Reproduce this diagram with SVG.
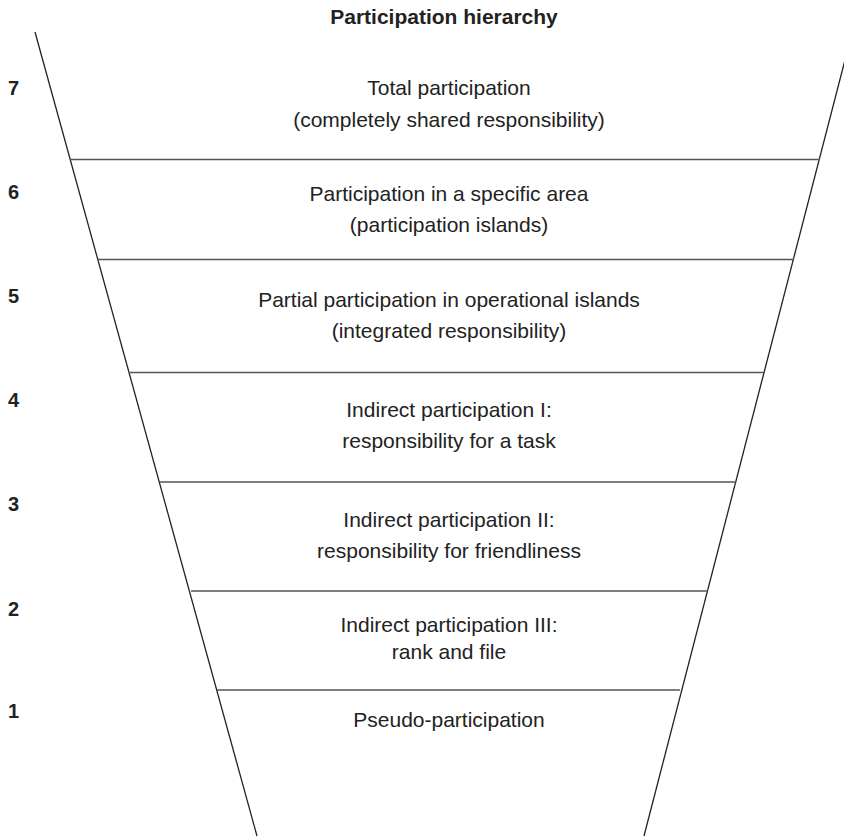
<svg xmlns="http://www.w3.org/2000/svg" width="844" height="838" viewBox="0 0 844 838">
<style>
.t{font-family:"Liberation Sans",Arial,Helvetica,sans-serif;font-size:21px;fill:#222;text-anchor:middle}
.n{font-family:"Liberation Sans",Arial,Helvetica,sans-serif;font-size:20px;font-weight:bold;fill:#222}
.title{font-family:"Liberation Sans",Arial,Helvetica,sans-serif;font-size:21px;font-weight:bold;fill:#222;text-anchor:middle}
.f{stroke:#222;stroke-width:1.3;fill:none}
.h{stroke:#555;stroke-width:1.4;fill:none}
</style>
<rect width="844" height="838" fill="#fff"/>
<text class="title" x="444" y="24">Participation hierarchy</text>
<g id="connectors">
<line class="f" x1="35" y1="32" x2="257" y2="836"/>
<line class="f" x1="845" y1="60" x2="644" y2="836"/>
<line class="h" x1="70" y1="159.5" x2="820" y2="159.5"/>
<line class="h" x1="98" y1="259.5" x2="794" y2="259.5"/>
<line class="h" x1="130" y1="372.5" x2="765" y2="372.5"/>
<line class="h" x1="160" y1="482" x2="736" y2="482"/>
<line class="h" x1="191" y1="591" x2="708" y2="591"/>
<line class="h" x1="217" y1="690" x2="680" y2="690"/>
</g>
<g id="level7">
<text class="n" x="8" y="95">7</text>
<text class="t" x="449" y="95">Total participation</text>
<text class="t" x="449" y="127">(completely shared responsibility)</text>
</g>
<g id="level6">
<text class="n" x="8" y="199">6</text>
<text class="t" x="449" y="201">Participation in a specific area</text>
<text class="t" x="449" y="232">(participation islands)</text>
</g>
<g id="level5">
<text class="n" x="8" y="303">5</text>
<text class="t" x="449" y="307">Partial participation in operational islands</text>
<text class="t" x="449" y="338">(integrated responsibility)</text>
</g>
<g id="level4">
<text class="n" x="8" y="407">4</text>
<text class="t" x="449" y="417">Indirect participation I:</text>
<text class="t" x="449" y="448">responsibility for a task</text>
</g>
<g id="level3">
<text class="n" x="8" y="511">3</text>
<text class="t" x="449" y="527">Indirect participation II:</text>
<text class="t" x="449" y="558">responsibility for friendliness</text>
</g>
<g id="level2">
<text class="n" x="8" y="616">2</text>
<text class="t" x="449" y="632">Indirect participation III:</text>
<text class="t" x="449" y="659">rank and file</text>
</g>
<g id="level1">
<text class="n" x="8" y="718">1</text>
<text class="t" x="449" y="727">Pseudo-participation</text>
</g>
</svg>
